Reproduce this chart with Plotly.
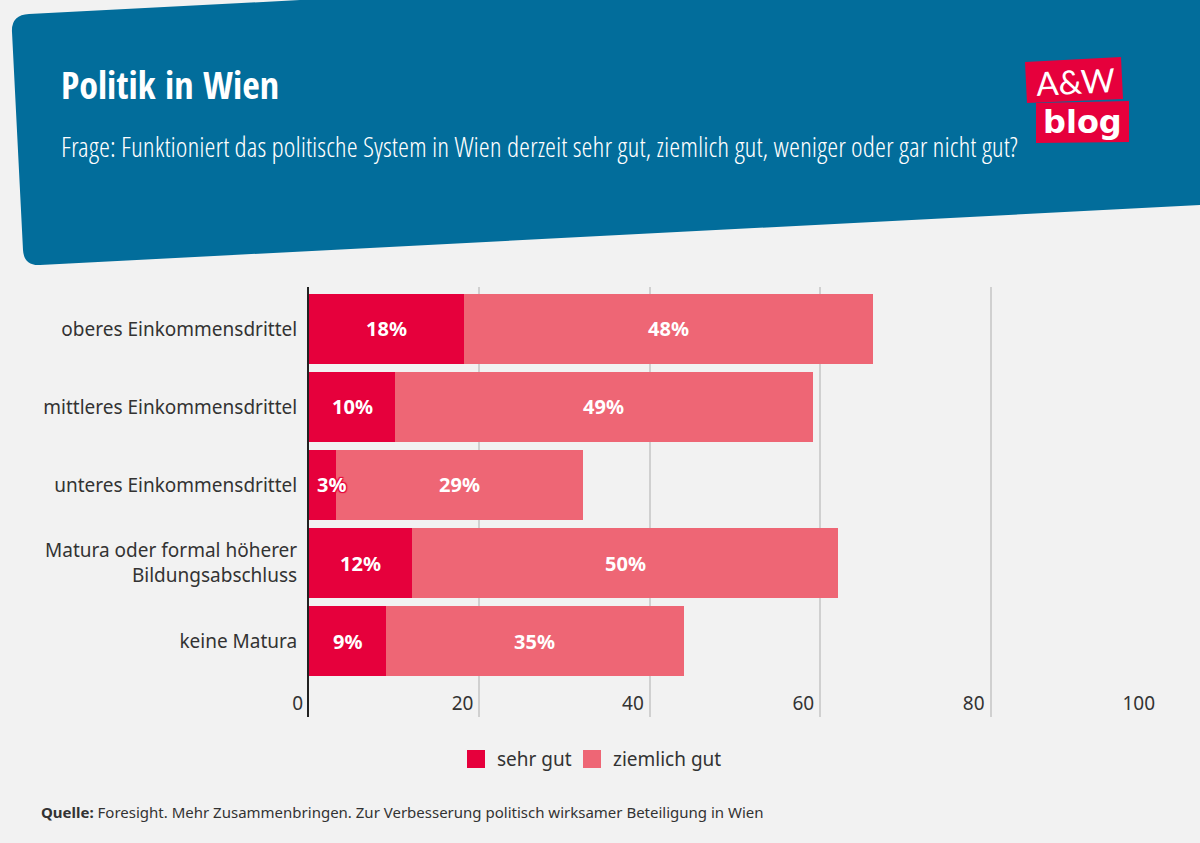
import plotly.graph_objects as go

categories = ["oberes Einkommensdrittel", "mittleres Einkommensdrittel", "unteres Einkommensdrittel",
              "Matura oder formal höherer<br>Bildungsabschluss", "keine Matura"]
sehr_gut = [18.2, 10.1, 3.2, 12.1, 9.0]
ziemlich_gut = [48.0, 49.0, 29.0, 50.0, 35.0]
series_names = ["sehr gut", "ziemlich gut"]
x_ticks = [0, 20, 40, 60, 80, 100]
title_text = "Politik in Wien"
subtitle_text = "Frage: Funktioniert das politische System in Wien derzeit sehr gut, ziemlich gut, weniger oder gar nicht gut?"
source_text = "<b>Quelle:</b> Foresight. Mehr Zusammenbringen. Zur Verbesserung politisch wirksamer Beteiligung in Wien"

W, H = 1200, 843
ML, MR, MT, MB = 309, 39, 287, 126
PW, PH = W - ML - MR, H - MT - MB
RED, ROSE, BLUE, BG, INK = "#e6003c", "#ee6675", "#026d9b", "#f2f2f2", "#333333"
BODY = "Noto Sans"
NARROW = "Open Sans Condensed, Roboto Condensed, DejaVu Sans Condensed"
NARROW_REG = "Noto Sans Condensed, Open Sans Condensed Light, Roboto Condensed, DejaVu Sans Condensed"

def px(x): return (x - ML) / PW
def py(y): return 1 - (y - MT) / PH

def poly(points, color):
    d = "M" + "L".join(f"{px(a):.5f},{py(b):.5f}" for a, b in points) + "Z"
    return dict(type="path", xref="paper", yref="paper", path=d, fillcolor=color, line_width=0, layer="below")

def pq(a, b): return f"{px(a):.5f},{py(b):.5f}"
panel = ("M" + pq(12, 32) + "Q" + pq(11, 15) + " " + pq(29, 14) + "L" + pq(300, 0) + "L" + pq(1200, 0) +
         "L" + pq(1200, 205) + "L" + pq(40, 265) + "Q" + pq(24, 266) + " " + pq(23, 250) + "Z")
shapes = [dict(type="path", xref="paper", yref="paper", path=panel, fillcolor=BLUE, line_width=0, layer="below"),
          poly([(1025, 62), (1121, 57), (1123, 99), (1027, 103)], RED),
          poly([(1036, 103), (1129, 101), (1129, 142), (1036, 143)], RED)]

def label(x, y, text, size, color="white", family=BODY, anchor="left", angle=0, weight=None):
    return dict(xref="paper", yref="paper", x=px(x), y=py(y), text=text, showarrow=False, xanchor=anchor,
                yanchor="middle", textangle=angle, font=dict(size=size, color=color, family=family, weight=weight))

annotations = [
    label(59, 84, f"<b>{title_text}</b>", 38, family=NARROW),
    label(59, 146, subtitle_text, 28, family=NARROW_REG, weight=400),
    label(1075, 81, "A&W", 33, family="Lato", anchor="center", angle=-3),
    label(1082, 122, "<b>blog</b>", 32, family="DejaVu Sans", anchor="center"),
    label(39, 812, source_text, 15, color=INK),
    label(495, 759, series_names[0], 19, color=INK),
    label(611, 759, series_names[1], 19, color=INK),
]
shapes += [
    dict(type="rect", xref="paper", yref="paper", x0=px(467), x1=px(485), y0=py(750), y1=py(768), fillcolor=RED, line_width=0),
    dict(type="rect", xref="paper", yref="paper", x0=px(583), x1=px(601), y0=py(750), y1=py(768), fillcolor=ROSE, line_width=0),
]

halo = f"1px 1px 1px {RED}, -1px -1px 1px {RED}, 1px -1px 1px {RED}, -1px 1px 1px {RED}"
bar_font = dict(size=20, color="white", family=BODY, weight="bold")
for cat, a, b in zip(categories, sehr_gut, ziemlich_gut):
    annotations.append(dict(xref="x", yref="y", x=max(a / 2, 2.6), y=cat, text=f"{round(a)}%", showarrow=False,
                            yshift=0, font=dict(shadow=halo, **bar_font)))
    annotations.append(dict(xref="x", yref="y", x=a + b / 2, y=cat, text=f"{round(b)}%", showarrow=False,
                            yshift=0, font=bar_font))

fig = go.Figure()
fig.add_bar(y=categories, x=sehr_gut, orientation="h", name=series_names[0], marker=dict(color=RED, line_width=0))
fig.add_bar(y=categories, x=ziemlich_gut, orientation="h", name=series_names[1], marker=dict(color=ROSE, line_width=0))

fig.update_layout(
    width=W, height=H, barmode="stack", bargap=8 / 78, showlegend=False,
    margin=dict(l=ML, r=MR, t=MT, b=MB, pad=0), paper_bgcolor=BG, plot_bgcolor=BG,
    font=dict(family=BODY, size=19, color=INK), shapes=shapes, annotations=annotations,
    xaxis=dict(range=[0, 100], tickvals=x_ticks, ticktext=[str(t) for t in x_ticks], showgrid=True,
               gridcolor="#d0d0d0", gridwidth=1.6, zeroline=False, ticks="", showline=False,
               ticklabelposition="inside left", ticklabeloverflow="allow", ticklabelshift=-6, ticklabelstandoff=-3,
               tickfont=dict(size=19, color=INK, family=BODY)),
    yaxis=dict(type="category", categoryorder="array", categoryarray=categories,
               range=[4.974, -0.538], showgrid=False, zeroline=False, ticks="", showline=True, linecolor="#222222",
               linewidth=2, ticklabelstandoff=6, tickfont=dict(size=19, color=INK, family=BODY)),
)
fig.write_html("out.html", config=dict(displayModeBar=False),
               post_script="document.body.style.margin='0';document.body.style.background='#f2f2f2';")
